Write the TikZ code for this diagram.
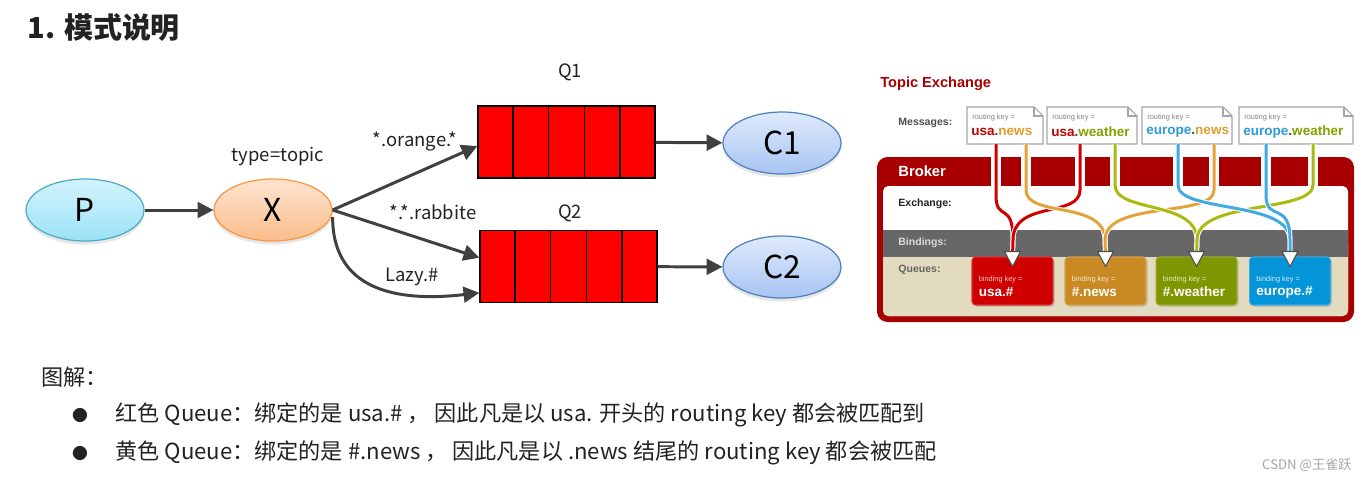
\documentclass[tikz,border=0pt]{standalone}
\usepackage{fontspec}
\setmainfont{Noto Sans CJK SC}
\newfontfamily\arialfont{Liberation Sans}
\usetikzlibrary{shapes.geometric,arrows.meta,shadows,calc}
\definecolor{ink}{HTML}{222222}
\definecolor{arrowgray}{HTML}{404040}
\definecolor{pborder}{HTML}{4BACC6}
\definecolor{ptop}{HTML}{D2F3FC}
\definecolor{pbot}{HTML}{9CE2F7}
\definecolor{xborder}{HTML}{F79646}
\definecolor{xtop}{HTML}{FDE4D0}
\definecolor{xbot}{HTML}{FBBD8A}
\definecolor{cborder}{HTML}{4F81BD}
\definecolor{ctop}{HTML}{DFEAFC}
\definecolor{cbot}{HTML}{A7C4F2}
\definecolor{brokerred}{HTML}{A80000}
\definecolor{beige}{HTML}{E3DBC0}
\definecolor{bandgray}{HTML}{676767}
\definecolor{kred}{HTML}{C40000}
\definecolor{korange}{HTML}{DE9E2E}
\definecolor{kgreen}{HTML}{86A000}
\definecolor{kblue}{HTML}{2E9AD8}
\definecolor{lred}{HTML}{D00000}
\definecolor{lorange}{HTML}{E3A33A}
\definecolor{lgreen}{HTML}{AABA10}
\definecolor{lblue}{HTML}{40AAE2}
\definecolor{qred}{HTML}{CF0000}
\definecolor{qorange}{HTML}{C98A24}
\definecolor{qgreen}{HTML}{809600}
\definecolor{qblue}{HTML}{0494D8}

\begin{document}
\begin{tikzpicture}[x=0.02cm, y=-0.02cm,
  ell/.style={ellipse, draw, line width=0.7pt, minimum width=2.36cm, minimum height=1.24cm,
    font=\fontsize{18}{20}\selectfont, drop shadow={opacity=0.2, shadow xshift=0pt, shadow yshift=-2pt}},
  queue/.style={draw=black, fill=red, line width=0.8pt, minimum width=3.54cm, minimum height=1.44cm, inner sep=0pt},
  flow/.style={arrowgray, line width=1.7pt, -{Triangle[length=9pt,width=9pt]}},
  lbl/.style={text=ink, font=\fontsize{10.5}{12}\selectfont, inner sep=0pt},
  wire/.style={line width=1.7pt, preaction={draw=white, line width=2.8pt}},
  rqueue/.style={minimum width=1.62cm, minimum height=0.96cm, rounded corners=2pt, draw=#1!80!white, fill=#1,
    line width=0.6pt, drop shadow={opacity=0.25, shadow xshift=1pt, shadow yshift=-1pt}},
  msgline/.style={draw=gray!70, line width=0.6pt},
  tinytext/.style={font=\arialfont\fontsize{4.2}{5}\selectfont, inner sep=0pt, anchor=west},
  keytext/.style={text=ink!85, font=\arialfont\bfseries\fontsize{7.7}{9}\selectfont, inner sep=0pt, anchor=west},
  sidelabel/.style={text=ink, font=\arialfont\bfseries\fontsize{6}{7}\selectfont, inner sep=0pt, anchor=west},
  bodytext/.style={text=ink, font=\fontsize{12.6}{14}\selectfont, inner sep=0pt, anchor=west},
]
\useasboundingbox (0,0) rectangle (1368,481);

% Title
\node[anchor=west, text=ink, font=\bfseries\fontsize{16.5}{18}\selectfont, inner sep=0pt] (title) at (27,28) {1. 模式说明};

% Producer, exchange, queues, consumers
\node[ell, draw=pborder, top color=ptop, bottom color=pbot] (p) at (85,210) {P};
\node[ell, draw=xborder, top color=xtop, bottom color=xbot] (x) at (273,210) {X};
\node[lbl] (xtype) at (278,157) {type=topic};
\node[queue] (q1) at (566.5,142) {};
\node[queue] (q2) at (568.5,266.5) {};
\foreach \q in {q1,q2}
  \foreach \i in {1,...,4}
    \draw[line width=0.8pt] ($(\q.north west)!\i/5!(\q.north east)$) -- ($(\q.south west)!\i/5!(\q.south east)$);
\node[lbl] (q1name) at (570,72) {Q1};
\node[lbl] (q2name) at (570,213) {Q2};
\node[ell, draw=cborder, top color=ctop, bottom color=cbot] (c1) at (782,143) {C1};
\node[ell, draw=cborder, top color=ctop, bottom color=cbot] (c2) at (782,267) {C2};

% Arrows
\draw[flow] (p) -- (x);
\draw[flow] (x.east) -- ([yshift=-2.3pt]q1.west);
\draw[flow] (x.east) -- ([yshift=5pt]q2.west);
\draw[flow] ([yshift=-4pt]x.east) .. controls +(0,80) and +(-70,8) .. ([yshift=-15pt]q2.west);
\draw[flow] (q1) -- (c1);
\draw[flow] (q2) -- (c2);
\node[lbl] (orange) at (415,141) {*.orange.*};
\node[lbl] (rabbit) at (433,212) {*.*.rabbite};
\node[lbl] (lazy) at (412,277) {Lazy.\#};

% Topic exchange
\node[anchor=west, text=brokerred, font=\arialfont\bfseries\fontsize{8.3}{10}\selectfont, inner sep=0pt] (topic) at (880,84) {Topic Exchange};
\node[sidelabel, text=ink!80] (msgs) at (898,123) {Messages:};

% Broker
\fill[brokerred, rounded corners=6pt] (877,157) rectangle (1354,322);
\fill[white, rounded corners=3pt] (883,186) rectangle (1348,316);
\fill[beige, rounded corners=3pt] (883,240) rectangle (1348,316);
\fill[bandgray] (883,230) rectangle (1348,257);
\foreach \xs in {996,1026,1080,1115,1178,1214,1266,1313}
  \fill[white] (\xs-5,157) rectangle (\xs+5,186);
\node[sidelabel, text=white, font=\arialfont\bfseries\fontsize{8.4}{10}\selectfont] (broker) at (898,171) {Broker};
\node[sidelabel] (exch) at (898,204) {Exchange:};
\node[sidelabel, text=white!85!black] (bind) at (898,243) {Bindings:};
\node[sidelabel, text=ink!70] (ques) at (898,270) {Queues:};

% Queues
\foreach \i/\xc/\c/\keyname in {1/1012.5/qred/usa.\#, 2/1105.5/qorange/\#.news, 3/1196.5/qgreen/\#.weather, 4/1290/qblue/europe.\#} {
  \node[rqueue=\c] (rq\i) at (\xc,281) {};
  \node[tinytext, text=white!80!\c] at ($(rq\i.west)+(7,-1)$) {binding key =};
  \node[keytext, text=white] at ($(rq\i.west)+(7,11)$) {\keyname};
}

% Messages
\foreach \i/\xa/\xb/\ka/\kb/\ca/\cb in {1/967/1043/usa/news/kred/korange, 2/1047/1137/usa/weather/kred/kgreen,
    3/1142/1232/europe/news/kblue/korange, 4/1239/1353/europe/weather/kblue/kgreen} {
  \draw[msgline, fill=white] (\xa,107) -- (\xb-9,107) -- (\xb,116) -- (\xb,144) -- (\xa,144) -- cycle;
  \draw[msgline] (\xb-9,107) -- (\xb-9,116) -- (\xb,116);
  \node[tinytext, text=gray] at (\xa+5,118) {routing key =};
  \node[keytext] (m\i) at (\xa+4,132) {\textcolor{\ca}{\ka}.\textcolor{\cb}{\kb}};
}

% Wires
\foreach \xs/\xe/\ya/\c/\i in {996/1013/195/lred/1, 1080/1013/190/lred/1, 1026/1105/190/lorange/2, 1214/1105/190/lorange/2,
    1115/1197/185/lgreen/3, 1313/1197/185/lgreen/3, 1178/1290/185/lblue/4, 1266/1290/195/lblue/4}
  \draw[wire, \c] (\xs,144) -- (\xs,\ya) .. controls (\xs,\ya+28) and (\xe,200) .. (\xe,240) -- (rq\i.north);
\foreach \i in {1,...,4}
  \draw[fill=white, draw=ink!80, line width=0.6pt, line join=round] ($(rq\i.north)+(-8,-5)$) -- ($(rq\i.north)+(8,-5)$) -- ($(rq\i.north)+(0,10)$) -- cycle;

% Legend
\node[bodytext] (legend) at (41,377) {图解：};
\node[text=ink, font=\fontsize{9}{10}\selectfont, inner sep=0pt] (dot1) at (80,415) {●};
\node[text=ink, font=\fontsize{9}{10}\selectfont, inner sep=0pt] (dot2) at (80,453) {●};
\node[bodytext] (line1) at (115,415) {红色 Queue：绑定的是 usa.\# ， 因此凡是以 usa. 开头的 routing key 都会被匹配到};
\node[bodytext] (line2) at (115,453) {黄色 Queue：绑定的是 \#.news ， 因此凡是以 .news 结尾的 routing key 都会被匹配};
\node[anchor=east, text=gray!70, font=\fontsize{7.5}{9}\selectfont, inner sep=0pt] (csdn) at (1352,465) {CSDN @王雀跃};
\end{tikzpicture}
\end{document}
